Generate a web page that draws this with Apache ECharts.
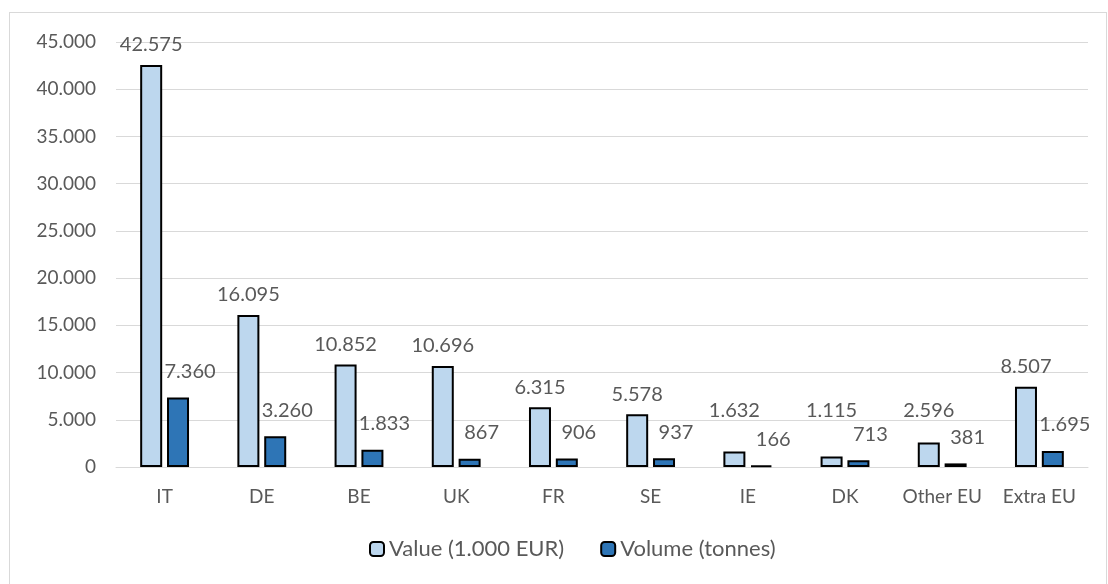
<!DOCTYPE html>
<html>
<head>
<meta charset="utf-8">
<script src="https://cdn.jsdelivr.net/npm/echarts@6/dist/echarts.min.js"></script>
<style>
	html, body { margin: 0; padding: 0; background: #fff; }
	#frame { position: absolute; left: 9px; top: 12px; width: 1096px; height: 580px; border: 1px solid #d9d9d9; }
	#chartmain { position: absolute; left: 0; top: 0; width: 1108px; height: 584px; }
</style>
</head>
<body>
<div id="frame"></div>
<div id="chartmain"></div>
<script>
var categories = ['IT', 'DE', 'BE', 'UK', 'FR', 'SE', 'IE', 'DK', 'Other EU', 'Extra EU'];
var valueData = [42575, 16095, 10852, 10696, 6315, 5578, 1632, 1115, 2596, 8507];
var volumeData = [7360, 3260, 1833, 867, 906, 937, 166, 713, 381, 1695];
var seriesNames = ['Value (1.000 EUR)', 'Volume (tonnes)'];

function fmt(v) {
	return String(v).replace(/\B(?=(\d{3})+(?!\d))/g, '.');
}

var font = 'Lato, "Open Sans", sans-serif';
var grey = '#595959';

var option = {
	animation: false,
	textStyle: { fontFamily: font },
	grid: { left: 116, right: 20, top: 42, bottom: 117 },
	legend: {
		data: seriesNames,
		bottom: 19,
		left: 364,
		itemWidth: 14,
		itemHeight: 14,
		itemGap: 36,
		textStyle: { fontSize: 22, color: grey, fontFamily: font }
	},
	xAxis: {
		type: 'category',
		data: categories,
		axisLine: { lineStyle: { color: '#d9d9d9' } },
		axisTick: { show: false },
		axisLabel: { interval: 0, color: grey, fontSize: 19, margin: 20, fontFamily: font }
	},
	yAxis: {
		type: 'value',
		min: 0,
		max: 45000,
		interval: 5000,
		axisLine: { show: false },
		axisTick: { show: false },
		splitLine: { lineStyle: { color: '#d9d9d9', width: 1 } },
		axisLabel: { color: grey, fontSize: 19, margin: 20, fontFamily: font, formatter: fmt }
	},
	series: [{
		name: seriesNames[0],
		type: 'bar',
		data: valueData,
		barWidth: 22,
		barGap: '22%',
		itemStyle: { color: '#bdd7ee', borderColor: '#000', borderWidth: 2 },
		label: {
			show: true, position: 'top', distance: 10,
			color: grey, fontSize: 20, fontFamily: font,
			formatter: function (p) { return fmt(p.value); }
		},
		// keep small-value labels clear of the volume labels, like Excel does
		labelLayout: function (p) {
			return { dy: Math.min(0, 431 - p.rect.y) };
		}
	}, {
		name: seriesNames[1],
		type: 'bar',
		data: volumeData,
		barWidth: 22,
		itemStyle: { color: '#2e75b6', borderColor: '#000', borderWidth: 2 },
		label: {
			show: true, position: 'top', distance: 16, offset: [12, 0],
			color: grey, fontSize: 20, fontFamily: font,
			formatter: function (p) { return fmt(p.value); }
		}
	}]
};

var myChart = echarts.init(document.getElementById('chartmain'));
myChart.setOption(option);
</script>
</body>
</html>
